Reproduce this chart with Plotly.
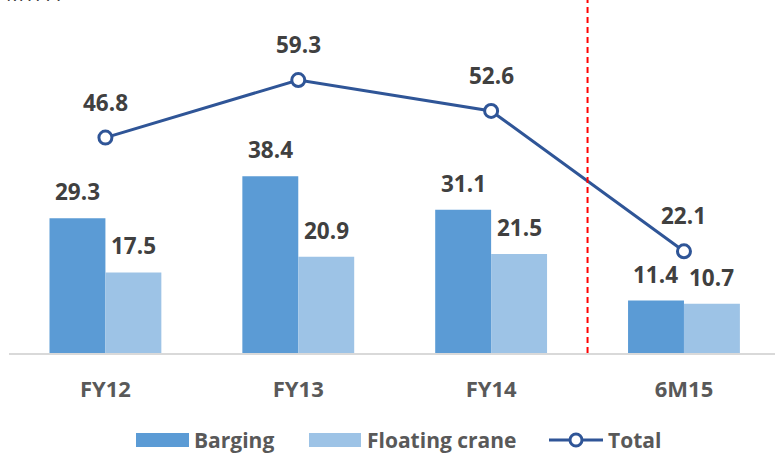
import plotly.graph_objects as go

# Volumes by period (MTPA)
periods = ["FY12", "FY13", "FY14", "6M15"]
barging = [29.3, 38.4, 31.1, 11.4]
floating_crane = [17.5, 20.9, 21.5, 10.7]
total = [46.8, 59.3, 52.6, 22.1]

unit_label = "MTPA"
legend_names = ["Barging", "Floating crane", "Total"]

C_BARGING = "#5B9BD5"
C_FLOAT = "#9DC3E6"
C_TOTAL = "#2F5597"
C_LABEL = "#404040"
C_TICK = "#595959"
FONT = "Open Sans"

W, H = 775, 456
M_L, M_R, M_T, M_B = 9, 0, 0, 103
PW, PH = W - M_L - M_R, H - M_T - M_B


def px_x(px):
    return (px - M_L) / PW


def px_y(py):
    return (H - M_B - py) / PH


fig = go.Figure()
fig.add_trace(go.Bar(x=periods, y=barging, name=legend_names[0],
                     marker=dict(color=C_BARGING, line=dict(width=0)), showlegend=False))
fig.add_trace(go.Bar(x=periods, y=floating_crane, name=legend_names[1],
                     marker=dict(color=C_FLOAT, line=dict(width=0)), showlegend=False))
fig.add_trace(go.Scatter(x=periods, y=total, name=legend_names[2], mode="lines+markers",
                         line=dict(color=C_TOTAL, width=3),
                         marker=dict(symbol="circle", size=13, color="white",
                                     line=dict(color=C_TOTAL, width=3)),
                         showlegend=False))

label_font = dict(family=FONT, size=22.5, color=C_LABEL, weight="bold")
annotations = []
for p, b, f, t in zip(periods, barging, floating_crane, total):
    annotations.append(dict(x=p, y=b, text=f"{b:.1f}", showarrow=False, xref="x", yref="y",
                            xanchor="center", yanchor="bottom", xshift=-28, yshift=9,
                            font=label_font))
    annotations.append(dict(x=p, y=f, text=f"{f:.1f}", showarrow=False, xref="x", yref="y",
                            xanchor="center", yanchor="bottom", xshift=28, yshift=9,
                            font=label_font))
    annotations.append(dict(x=p, y=t, text=f"{t:.1f}", showarrow=False, xref="x", yref="y",
                            xanchor="center", yanchor="bottom", yshift=18,
                            font=label_font))

# unit caption at the top-left corner
annotations.append(dict(x=px_x(4), y=px_y(9), xref="paper", yref="paper", text=unit_label,
                        showarrow=False, xanchor="left", yanchor="bottom",
                        font=dict(family=FONT, size=20, color=C_LABEL)))

shapes = []
# divider between full years and the half-year period
shapes.append(dict(type="line", xref="x", yref="paper", x0=2.5, x1=2.5, y0=0, y1=1,
                   line=dict(color="#FF0000", width=2, dash="6px,4px")))

# legend
leg_font = dict(family=FONT, size=21, color=C_TICK, weight="bold")
leg_cy = 440
shapes.append(dict(type="rect", xref="paper", yref="paper", x0=px_x(136), x1=px_x(189),
                   y0=px_y(447), y1=px_y(433), fillcolor=C_BARGING, line=dict(width=0)))
shapes.append(dict(type="rect", xref="paper", yref="paper", x0=px_x(309), x1=px_x(361),
                   y0=px_y(447), y1=px_y(433), fillcolor=C_FLOAT, line=dict(width=0)))
shapes.append(dict(type="line", xref="paper", yref="paper", x0=px_x(549), x1=px_x(603),
                   y0=px_y(leg_cy), y1=px_y(leg_cy), line=dict(color=C_TOTAL, width=3)))
shapes.append(dict(type="circle", xref="paper", yref="paper", x0=px_x(570), x1=px_x(582),
                   y0=px_y(446), y1=px_y(434), fillcolor="white",
                   line=dict(color=C_TOTAL, width=3)))
for name, left in zip(legend_names, [192, 365, 606]):
    annotations.append(dict(x=px_x(left), y=px_y(leg_cy), xref="paper", yref="paper",
                            text=name, showarrow=False, xanchor="left", yanchor="middle",
                            font=leg_font))

fig.update_layout(
    width=W, height=H,
    margin=dict(l=M_L, r=M_R, t=M_T, b=M_B, pad=0),
    paper_bgcolor="white", plot_bgcolor="white",
    barmode="group", bargap=0.42, bargroupgap=0,
    annotations=annotations, shapes=shapes,
    showlegend=False,
    xaxis=dict(type="category", range=[-0.5, 3.472], showgrid=False, zeroline=False,
               showline=True, linecolor="#D9D9D9", linewidth=2, ticks="",
               tickfont=dict(family=FONT, size=22, color=C_TICK, weight="bold"),
               ticklabelstandoff=16),
    yaxis=dict(range=[0, 76.7], visible=False, showgrid=False, zeroline=False),
)

fig.write_html("out.html")
